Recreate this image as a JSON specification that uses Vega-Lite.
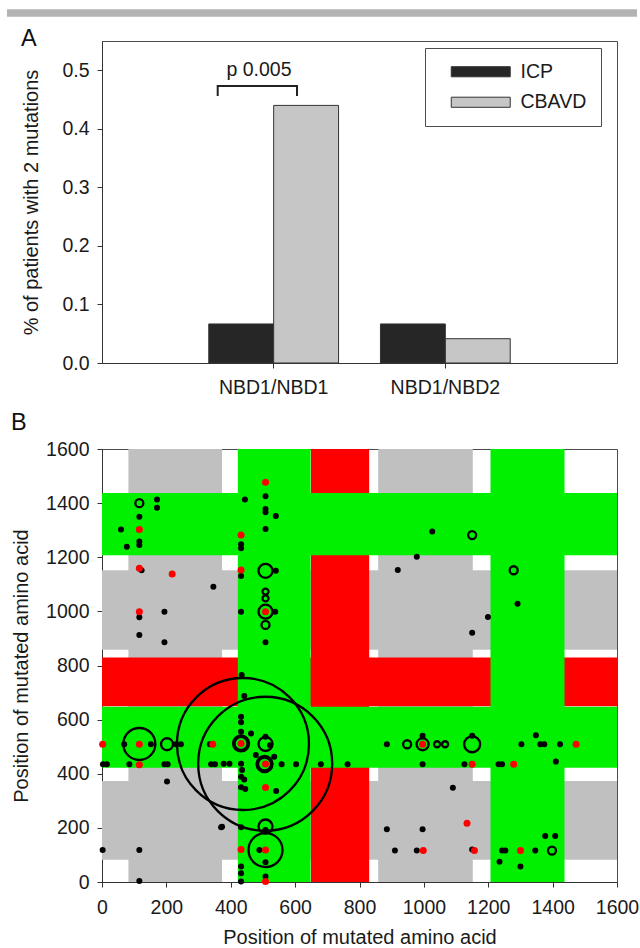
{
  "$schema": "https://vega.github.io/schema/vega-lite/v6.json",
  "padding": {"left": 2, "top": 8, "right": 0, "bottom": 0},
  "background": "white",
  "spacing": 13,
  "config": {
    "font": "Liberation Sans",
    "view": {"stroke": "#4d4d4d", "strokeWidth": 1},
    "axis": {
      "labelFont": "Liberation Sans", "titleFont": "Liberation Sans",
      "labelFontSize": 19.5, "titleFontSize": 20, "titleFontWeight": "normal",
      "labelColor": "#1a1a1a", "titleColor": "#1a1a1a",
      "domainColor": "#333333", "tickColor": "#333333", "tickSize": 5, "grid": false
    },
    "axisX": {"labelPadding": 10, "titlePadding": 12, "labelAngle": 0},
    "axisY": {"labelPadding": 8}
  },
  "datasets": {
    "bars": [
      {"pair": "NBD1/NBD1", "group": "ICP", "value": 0.0667},
      {"pair": "NBD1/NBD1", "group": "CBAVD", "value": 0.44},
      {"pair": "NBD1/NBD2", "group": "ICP", "value": 0.0667},
      {"pair": "NBD1/NBD2", "group": "CBAVD", "value": 0.0415}
    ],
    "bracket": [
      {"x": 0.674, "y": 0.4561, "o": 1},
      {"x": 0.674, "y": 0.4731, "o": 2},
      {"x": 1.136, "y": 0.4731, "o": 3},
      {"x": 1.136, "y": 0.4561, "o": 4}
    ],
    "domains": [
      {"domain": "MSD1", "start": 82, "end": 373, "type": "gray"},
      {"domain": "NBD1", "start": 422, "end": 648, "type": "green"},
      {"domain": "R", "start": 649, "end": 830, "type": "red"},
      {"domain": "MSD2", "start": 858, "end": 1152, "type": "gray"},
      {"domain": "NBD2", "start": 1207, "end": 1437, "type": "green"}
    ],
    "points": [
      {"x":171,"y":1413,"kind":"black"},{"x":171,"y":1383,"kind":"black"},{"x":116,"y":1350,"kind":"black"},{"x":59,"y":1303,"kind":"black"},
      {"x":116,"y":1258,"kind":"black"},{"x":116,"y":1245,"kind":"black"},{"x":77,"y":1239,"kind":"black"},{"x":123,"y":1152,"kind":"black"},
      {"x":346,"y":1091,"kind":"black"},{"x":116,"y":978,"kind":"black"},{"x":194,"y":999,"kind":"black"},{"x":116,"y":913,"kind":"black"},
      {"x":194,"y":886,"kind":"black"},{"x":444,"y":1413,"kind":"black"},{"x":508,"y":1425,"kind":"black"},{"x":508,"y":1378,"kind":"black"},
      {"x":508,"y":1366,"kind":"black"},{"x":540,"y":1352,"kind":"black"},{"x":508,"y":1304,"kind":"black"},{"x":432,"y":1248,"kind":"black"},
      {"x":432,"y":1233,"kind":"black"},{"x":432,"y":1131,"kind":"black"},{"x":540,"y":1150,"kind":"black"},{"x":538,"y":999,"kind":"black"},
      {"x":432,"y":999,"kind":"black"},{"x":508,"y":886,"kind":"black"},{"x":1026,"y":1295,"kind":"black"},{"x":978,"y":1202,"kind":"black"},
      {"x":919,"y":1153,"kind":"black"},{"x":1291,"y":1028,"kind":"black"},{"x":1199,"y":979,"kind":"black"},{"x":1150,"y":921,"kind":"black"},
      {"x":69,"y":509,"kind":"black"},{"x":152,"y":509,"kind":"black"},{"x":230,"y":509,"kind":"black"},{"x":245,"y":509,"kind":"black"},
      {"x":335,"y":509,"kind":"black"},{"x":3,"y":435,"kind":"black"},{"x":15,"y":435,"kind":"black"},{"x":85,"y":435,"kind":"black"},
      {"x":194,"y":435,"kind":"black"},{"x":204,"y":435,"kind":"black"},{"x":339,"y":435,"kind":"black"},{"x":351,"y":435,"kind":"black"},
      {"x":378,"y":437,"kind":"black"},{"x":396,"y":437,"kind":"black"},{"x":432,"y":437,"kind":"black"},{"x":558,"y":435,"kind":"black"},
      {"x":603,"y":435,"kind":"black"},{"x":680,"y":435,"kind":"black"},{"x":763,"y":435,"kind":"black"},{"x":202,"y":371,"kind":"black"},
      {"x":373,"y":204,"kind":"black"},{"x":2,"y":118,"kind":"black"},{"x":116,"y":118,"kind":"black"},{"x":116,"y":4,"kind":"black"},
      {"x":434,"y":765,"kind":"black"},{"x":442,"y":687,"kind":"black"},{"x":432,"y":611,"kind":"black"},{"x":432,"y":590,"kind":"black"},
      {"x":432,"y":555,"kind":"black"},{"x":463,"y":549,"kind":"black"},{"x":508,"y":537,"kind":"black"},{"x":522,"y":505,"kind":"black"},
      {"x":478,"y":469,"kind":"black"},{"x":535,"y":463,"kind":"black"},
      {"x":435,"y":414,"kind":"black"},{"x":442,"y":379,"kind":"black"},{"x":432,"y":389,"kind":"black"},{"x":432,"y":350,"kind":"black"},
      {"x":445,"y":344,"kind":"black"},{"x":541,"y":336,"kind":"black"},{"x":370,"y":202,"kind":"black"},{"x":432,"y":202,"kind":"black"},
      {"x":508,"y":192,"kind":"black"},{"x":489,"y":118,"kind":"black"},{"x":508,"y":73,"kind":"black"},{"x":432,"y":57,"kind":"black"},
      {"x":432,"y":32,"kind":"black"},{"x":432,"y":2,"kind":"black"},{"x":508,"y":20,"kind":"black"},{"x":885,"y":509,"kind":"black"},
      {"x":996,"y":540,"kind":"black"},{"x":996,"y":435,"kind":"black"},{"x":1090,"y":348,"kind":"black"},{"x":885,"y":195,"kind":"black"},
      {"x":996,"y":195,"kind":"black"},{"x":910,"y":116,"kind":"black"},{"x":978,"y":116,"kind":"black"},{"x":1150,"y":540,"kind":"black"},
      {"x":1126,"y":435,"kind":"black"},{"x":1232,"y":435,"kind":"black"},{"x":1243,"y":435,"kind":"black"},{"x":1303,"y":509,"kind":"black"},
      {"x":1348,"y":542,"kind":"black"},{"x":1362,"y":509,"kind":"black"},{"x":1374,"y":509,"kind":"black"},{"x":1423,"y":509,"kind":"black"},
      {"x":1410,"y":445,"kind":"black"},{"x":1150,"y":120,"kind":"black"},{"x":1243,"y":116,"kind":"black"},{"x":1253,"y":116,"kind":"black"},
      {"x":1346,"y":116,"kind":"black"},{"x":1235,"y":75,"kind":"black"},{"x":1300,"y":57,"kind":"black"},{"x":1377,"y":170,"kind":"black"},
      {"x":1408,"y":170,"kind":"black"},
      {"x":116,"y":1400,"kind":"open","n":4},{"x":508,"y":1150,"kind":"open","n":7},{"x":508,"y":1073,"kind":"open","n":3},
      {"x":508,"y":1048,"kind":"open","n":3},{"x":508,"y":999,"kind":"open","n":7},{"x":508,"y":950,"kind":"open","n":4},
      {"x":1150,"y":1282,"kind":"open","n":4},{"x":1279,"y":1152,"kind":"open","n":4},{"x":116,"y":510,"kind":"open","n":16},
      {"x":202,"y":509,"kind":"open","n":6},{"x":438,"y":510,"kind":"open","n":66},{"x":507,"y":437,"kind":"open","n":67},
      {"x":432,"y":512,"kind":"open","n":8},{"x":432,"y":512,"kind":"open","n":6.5},{"x":508,"y":510,"kind":"open","n":7},
      {"x":505,"y":436,"kind":"open","n":8},{"x":505,"y":436,"kind":"open","n":6.5},{"x":508,"y":205,"kind":"open","n":7},
      {"x":508,"y":118,"kind":"open","n":17},{"x":948,"y":509,"kind":"open","n":4},{"x":996,"y":509,"kind":"open","n":6},
      {"x":1041,"y":509,"kind":"open","n":3},{"x":1066,"y":509,"kind":"open","n":3},{"x":1150,"y":509,"kind":"open","n":8},
      {"x":1398,"y":116,"kind":"open","n":4},
      {"x":508,"y":1477,"kind":"red"},{"x":116,"y":1303,"kind":"red"},{"x":432,"y":1282,"kind":"red"},{"x":116,"y":1159,"kind":"red"},
      {"x":218,"y":1138,"kind":"red"},{"x":432,"y":1153,"kind":"red"},{"x":116,"y":999,"kind":"red"},{"x":508,"y":999,"kind":"red"},
      {"x":2,"y":509,"kind":"red"},{"x":116,"y":509,"kind":"red"},{"x":344,"y":509,"kind":"red"},{"x":432,"y":512,"kind":"red"},
      {"x":996,"y":509,"kind":"red"},{"x":1473,"y":509,"kind":"red"},{"x":116,"y":433,"kind":"red"},{"x":508,"y":436,"kind":"red"},
      {"x":1150,"y":435,"kind":"red"},{"x":1279,"y":435,"kind":"red"},{"x":508,"y":349,"kind":"red"},{"x":1134,"y":217,"kind":"red"},
      {"x":432,"y":120,"kind":"red"},{"x":508,"y":118,"kind":"red"},{"x":998,"y":116,"kind":"red"},{"x":1157,"y":116,"kind":"red"},
      {"x":1300,"y":116,"kind":"red"},{"x":508,"y":2,"kind":"red"}
    ]
  },
  "vconcat": [
    {
      "width": 515,
      "height": 322,
      "layer": [
        {
          "data": {"name": "bars"},
          "mark": {"type": "bar", "stroke": "#333333", "strokeWidth": 1},
          "encoding": {
            "x": {"field": "pair", "type": "nominal", "title": null,
              "scale": {"domain": ["NBD1/NBD1", "NBD1/NBD2"], "paddingInner": 0.244, "paddingOuter": 0.622},
              "axis": {"labelPadding": 10}},
            "xOffset": {"field": "group", "type": "nominal",
              "scale": {"domain": ["ICP", "CBAVD"], "paddingInner": 0, "paddingOuter": 0}},
            "y": {"field": "value", "type": "quantitative", "title": "% of patients with 2 mutations",
              "scale": {"domain": [0, 0.55], "nice": false, "zero": false},
              "axis": {"values": [0, 0.1, 0.2, 0.3, 0.4, 0.5], "format": ".1f", "titlePadding": 20}},
            "fill": {"field": "group", "type": "nominal",
              "scale": {"domain": ["ICP", "CBAVD"], "range": ["#262626", "#c6c6c6"]},
              "legend": {
                "title": null, "orient": "none", "legendX": 323, "legendY": 7,
                "strokeColor": "#4d4d4d", "fillColor": "white", "padding": 14,
                "symbolType": "M-3.5,-0.6H3.5V0.6H-3.5Z", "symbolSize": 284,
                "symbolStrokeColor": "#333333", "symbolStrokeWidth": 1,
                "labelFontSize": 19.5, "labelFont": "Liberation Sans", "labelColor": "#1a1a1a",
                "rowPadding": 9.5, "labelOffset": 30, "symbolOffset": 32
              }}
          }
        },
        {
          "layer": [
            {
              "data": {"values": [{"band": "header"}]},
              "mark": {"type": "rule", "color": "#b3b3b3", "strokeWidth": 7.5},
              "encoding": {
                "x": {"datum": -0.5534, "type": "quantitative", "scale": {"domain": [0, 3], "nice": false, "zero": false}, "axis": null},
                "x2": {"datum": 3.1165},
                "y": {"datum": 0.5978, "type": "quantitative", "scale": {"domain": [0, 0.55], "nice": false, "zero": false}}
              }
            },
            {
              "data": {"values": [{"label": "A", "x": -0.4718, "y": 0.5415}]},
              "mark": {"type": "text", "fontSize": 23.5, "align": "left", "baseline": "alphabetic", "color": "#111111"},
              "encoding": {
                "x": {"field": "x", "type": "quantitative", "scale": {"domain": [0, 3], "nice": false, "zero": false}, "axis": null},
                "y": {"field": "y", "type": "quantitative", "scale": {"domain": [0, 0.55], "nice": false, "zero": false}},
                "text": {"field": "label"}
              }
            },
            {
              "data": {"values": [{"label": "p 0.005", "x": 0.9146, "y": 0.4902}]},
              "mark": {"type": "text", "fontSize": 19.5, "align": "center", "baseline": "alphabetic", "color": "#1a1a1a"},
              "encoding": {
                "x": {"field": "x", "type": "quantitative", "scale": {"domain": [0, 3], "nice": false, "zero": false}, "axis": null},
                "y": {"field": "y", "type": "quantitative", "scale": {"domain": [0, 0.55], "nice": false, "zero": false}},
                "text": {"field": "label"}
              }
            },
            {
              "data": {"name": "bracket"},
              "mark": {"type": "line", "color": "#222222", "strokeWidth": 2},
              "encoding": {
                "x": {"field": "x", "type": "quantitative", "scale": {"domain": [0, 3], "nice": false, "zero": false}, "axis": null},
                "y": {"field": "y", "type": "quantitative", "scale": {"domain": [0, 0.55], "nice": false, "zero": false}},
                "order": {"field": "o"}
              }
            }
          ]
        }
      ],
      "resolve": {"scale": {"x": "independent"}, "axis": {"x": "independent"}}
    },
    {
      "width": 515,
      "height": 433,
      "layer": [
        {
          "data": {"name": "domains"},
          "transform": [{"filter": "datum.type === 'gray'"}],
          "mark": {"type": "rect", "color": "#c0c0c0"},
          "encoding": {
            "x": {"field": "start", "type": "quantitative", "title": "Position of mutated amino acid",
              "scale": {"domain": [0, 1600], "nice": false, "zero": false},
              "axis": {"values": [0, 200, 400, 600, 800, 1000, 1200, 1400, 1600], "format": "d", "labelOverlap": false, "labelFlush": false, "labelPadding": 11, "titlePadding": 11}},
            "x2": {"field": "end"},
            "y": {"datum": 0, "type": "quantitative", "title": "Position of mutated amino acid",
              "scale": {"domain": [0, 1600], "nice": false, "zero": false},
              "axis": {"values": [0, 200, 400, 600, 800, 1000, 1200, 1400, 1600], "format": "d", "labelOverlap": false, "labelFlush": false, "titlePadding": 14}},
            "y2": {"datum": 1600}
          }
        },
        {
          "data": {"name": "domains"},
          "transform": [{"filter": "datum.type === 'gray'"}],
          "mark": {"type": "rect", "color": "#c0c0c0"},
          "encoding": {
            "y": {"field": "start", "type": "quantitative", "title": "Position of mutated amino acid", "scale": {"domain": [0, 1600], "nice": false, "zero": false}},
            "y2": {"field": "end"},
            "x": {"datum": 0, "type": "quantitative", "title": "Position of mutated amino acid", "scale": {"domain": [0, 1600], "nice": false, "zero": false}},
            "x2": {"datum": 1600}
          }
        },
        {
          "data": {"name": "domains"},
          "transform": [{"filter": "datum.type === 'red'"}],
          "mark": {"type": "rect", "color": "#ff0000"},
          "encoding": {
            "x": {"field": "start", "type": "quantitative", "title": "Position of mutated amino acid", "scale": {"domain": [0, 1600], "nice": false, "zero": false}},
            "x2": {"field": "end"},
            "y": {"datum": 0, "type": "quantitative", "title": "Position of mutated amino acid", "scale": {"domain": [0, 1600], "nice": false, "zero": false}},
            "y2": {"datum": 1600}
          }
        },
        {
          "data": {"name": "domains"},
          "transform": [{"filter": "datum.type === 'red'"}],
          "mark": {"type": "rect", "color": "#ff0000"},
          "encoding": {
            "y": {"field": "start", "type": "quantitative", "title": "Position of mutated amino acid", "scale": {"domain": [0, 1600], "nice": false, "zero": false}},
            "y2": {"field": "end"},
            "x": {"datum": 0, "type": "quantitative", "title": "Position of mutated amino acid", "scale": {"domain": [0, 1600], "nice": false, "zero": false}},
            "x2": {"datum": 1600}
          }
        },
        {
          "data": {"name": "domains"},
          "transform": [{"filter": "datum.type === 'green'"}],
          "mark": {"type": "rect", "color": "#00f000"},
          "encoding": {
            "x": {"field": "start", "type": "quantitative", "title": "Position of mutated amino acid", "scale": {"domain": [0, 1600], "nice": false, "zero": false}},
            "x2": {"field": "end"},
            "y": {"datum": 0, "type": "quantitative", "title": "Position of mutated amino acid", "scale": {"domain": [0, 1600], "nice": false, "zero": false}},
            "y2": {"datum": 1600}
          }
        },
        {
          "data": {"name": "domains"},
          "transform": [{"filter": "datum.type === 'green'"}],
          "mark": {"type": "rect", "color": "#00f000"},
          "encoding": {
            "y": {"field": "start", "type": "quantitative", "title": "Position of mutated amino acid", "scale": {"domain": [0, 1600], "nice": false, "zero": false}},
            "y2": {"field": "end"},
            "x": {"datum": 0, "type": "quantitative", "title": "Position of mutated amino acid", "scale": {"domain": [0, 1600], "nice": false, "zero": false}},
            "x2": {"datum": 1600}
          }
        },
        {
          "data": {"name": "points"},
          "transform": [{"filter": "datum.kind === 'black'"}],
          "mark": {"type": "point", "filled": true, "color": "#000000", "size": 36, "opacity": 1},
          "encoding": {
            "x": {"field": "x", "type": "quantitative", "title": "Position of mutated amino acid", "scale": {"domain": [0, 1600], "nice": false, "zero": false}},
            "y": {"field": "y", "type": "quantitative", "title": "Position of mutated amino acid", "scale": {"domain": [0, 1600], "nice": false, "zero": false}}
          }
        },
        {
          "data": {"name": "points"},
          "transform": [{"filter": "datum.kind === 'open'"}],
          "mark": {"type": "point", "filled": false, "color": "#000000", "strokeWidth": 2.3, "opacity": 1},
          "encoding": {
            "x": {"field": "x", "type": "quantitative", "title": "Position of mutated amino acid", "scale": {"domain": [0, 1600], "nice": false, "zero": false}},
            "y": {"field": "y", "type": "quantitative", "title": "Position of mutated amino acid", "scale": {"domain": [0, 1600], "nice": false, "zero": false}},
            "size": {"field": "n", "type": "quantitative", "scale": {"type": "pow", "exponent": 2, "domain": [0, 66], "range": [0, 17424]}, "legend": null}
          }
        },
        {
          "data": {"name": "points"},
          "transform": [{"filter": "datum.kind === 'red'"}],
          "mark": {"type": "point", "filled": true, "color": "#ff0000", "size": 49, "opacity": 1},
          "encoding": {
            "x": {"field": "x", "type": "quantitative", "title": "Position of mutated amino acid", "scale": {"domain": [0, 1600], "nice": false, "zero": false}},
            "y": {"field": "y", "type": "quantitative", "title": "Position of mutated amino acid", "scale": {"domain": [0, 1600], "nice": false, "zero": false}}
          }
        },
        {
          "data": {"values": [{"label": "B"}]},
          "mark": {"type": "text", "fontSize": 23.5, "align": "left", "baseline": "alphabetic", "color": "#111111"},
          "encoding": {
            "x": {"datum": -283, "type": "quantitative", "title": "Position of mutated amino acid", "scale": {"domain": [0, 1600], "nice": false, "zero": false}},
            "y": {"datum": 1670, "type": "quantitative", "title": "Position of mutated amino acid", "scale": {"domain": [0, 1600], "nice": false, "zero": false}},
            "text": {"field": "label"}
          }
        }
      ]
    }
  ]
}
